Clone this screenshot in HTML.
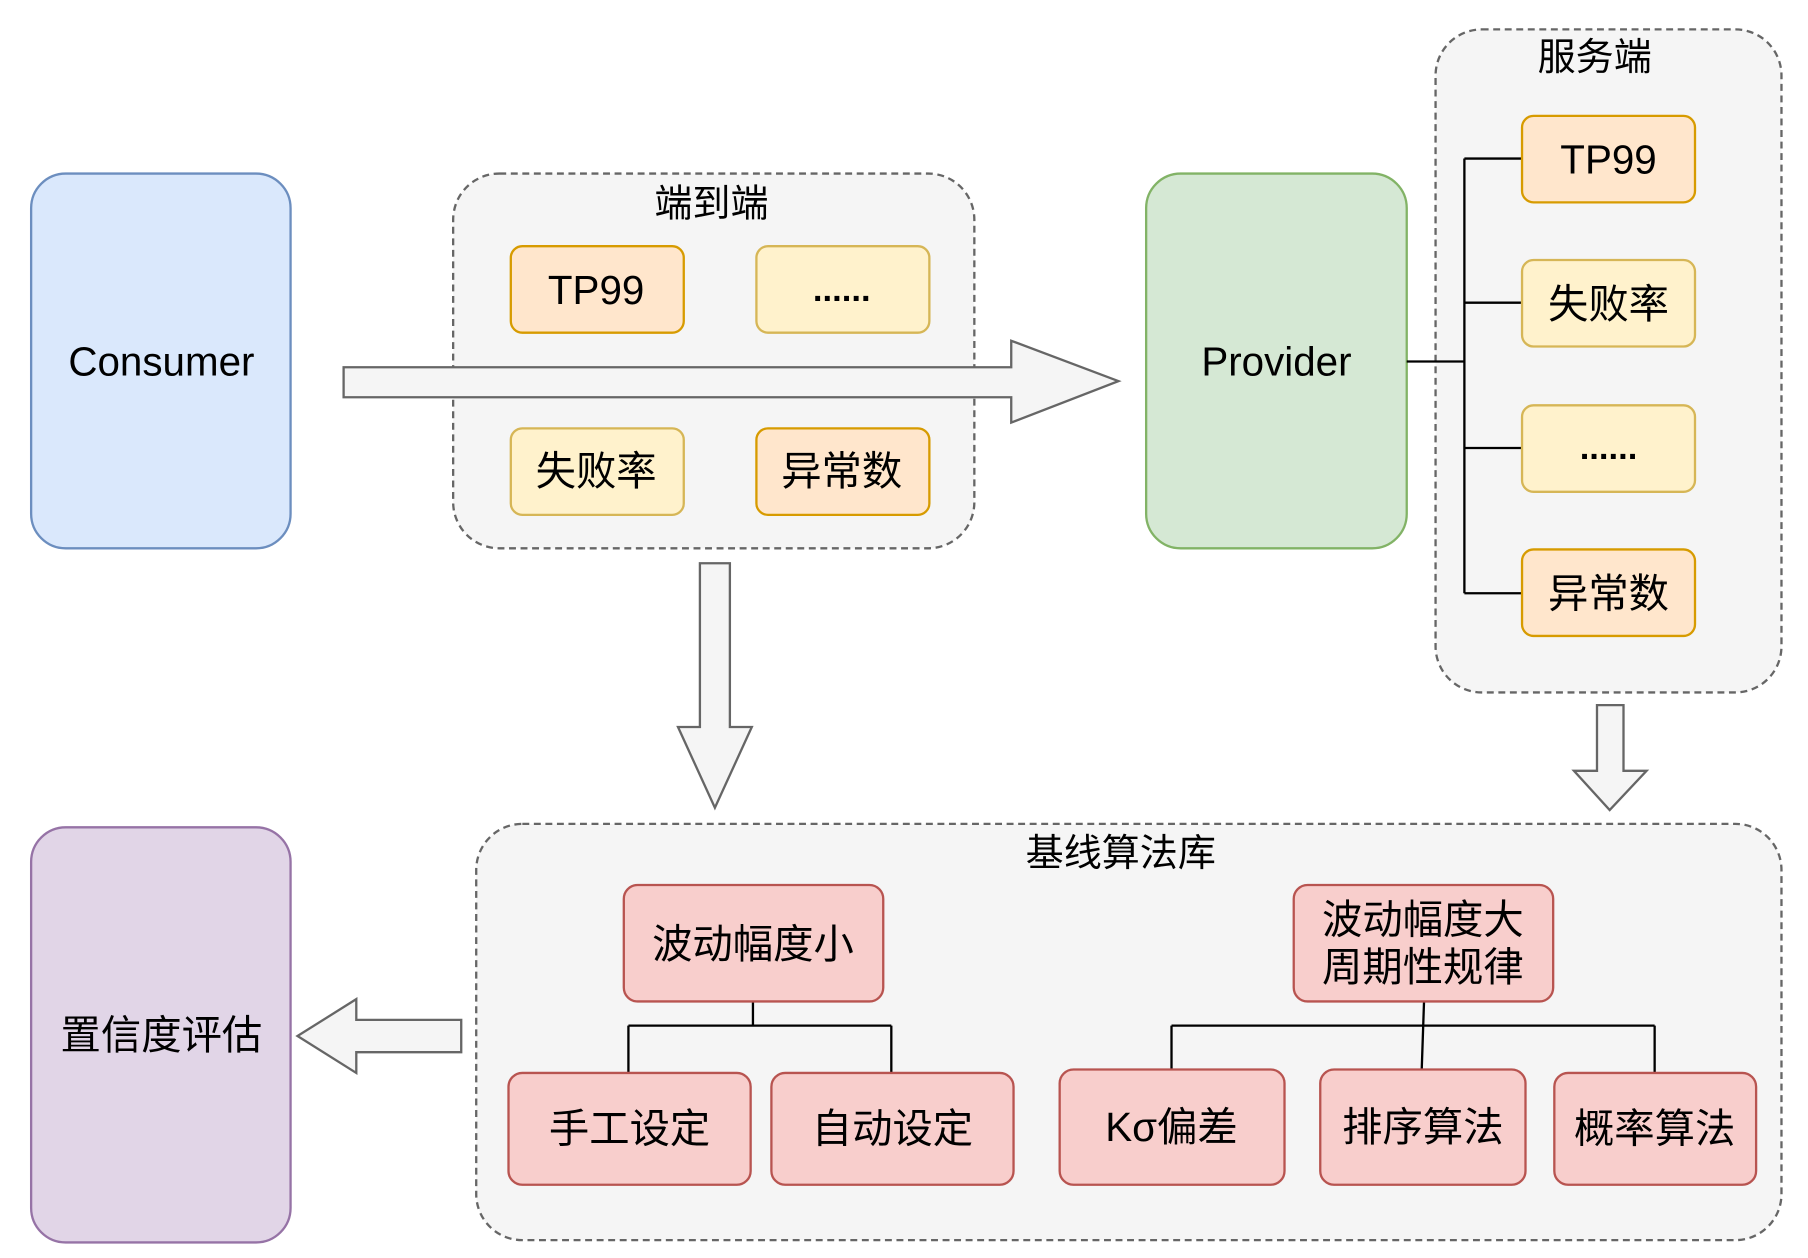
<!DOCTYPE html>
<html><head><meta charset="utf-8"><style>
html,body{margin:0;padding:0;background:#fff;}
svg{display:block;}
text{font-family:"Liberation Sans","Noto Sans CJK SC",sans-serif;fill:#000;text-anchor:middle;dominant-baseline:central;}
</style></head><body>
<svg width="1808" height="1258" viewBox="0 0 1568 1090" xmlns="http://www.w3.org/2000/svg">
<g stroke-width="2">
<rect x="393" y="150" width="452" height="325" rx="40" fill="#f5f5f5" stroke="#666" stroke-dasharray="6,4"/>
<rect x="1245" y="25" width="300" height="575" rx="40" fill="#f5f5f5" stroke="#666" stroke-dasharray="6,4"/>
<rect x="413" y="714" width="1132" height="361" rx="40" fill="#f5f5f5" stroke="#666" stroke-dasharray="6,4"/>

<rect x="27" y="150" width="225" height="325" rx="30" fill="#dae8fc" stroke="#6c8ebf"/>
<rect x="994" y="150" width="226" height="325" rx="30" fill="#d5e8d4" stroke="#82b366"/>
<rect x="27" y="717" width="225" height="360" rx="30" fill="#e1d5e7" stroke="#9673a6"/>

<rect x="443" y="213" width="150" height="75" rx="10" fill="#ffe6cc" stroke="#d79b00"/>
<rect x="656" y="213" width="150" height="75" rx="10" fill="#fff2cc" stroke="#d6b656"/>
<rect x="443" y="371" width="150" height="75" rx="10" fill="#fff2cc" stroke="#d6b656"/>
<rect x="656" y="371" width="150" height="75" rx="10" fill="#ffe6cc" stroke="#d79b00"/>

<path d="M1220 313H1270M1270 137V514M1270 137H1320M1270 262H1320M1270 388H1320M1270 514H1320" fill="none" stroke="#000"/>
<rect x="1320" y="100" width="150" height="75" rx="10" fill="#ffe6cc" stroke="#d79b00"/>
<rect x="1320" y="225" width="150" height="75" rx="10" fill="#fff2cc" stroke="#d6b656"/>
<rect x="1320" y="351" width="150" height="75" rx="10" fill="#fff2cc" stroke="#d6b656"/>
<rect x="1320" y="476" width="150" height="75" rx="10" fill="#ffe6cc" stroke="#d79b00"/>

<path d="M298 318H877V295L970 330L877 366V344H298Z" fill="#f5f5f5" stroke="#666"/>
<path d="M607 488H633V630H652L620 700L588 630H607Z" fill="#f5f5f5" stroke="#666"/>
<path d="M1385 611H1408V668H1428L1396 702L1365 668H1385Z" fill="#f5f5f5" stroke="#666"/>
<path d="M400 884H309V866L258 898L309 930V912H400Z" fill="#f5f5f5" stroke="#666"/>

<path d="M653 868V889M545 889H773M545 889V930M773 889V930M1235 868L1233 927M1016 889H1435M1016 889V927M1435 889V930" fill="none" stroke="#000"/>
<rect x="541" y="767" width="225" height="101" rx="12" fill="#f8cecc" stroke="#b85450"/>
<rect x="441" y="930" width="210" height="97" rx="12" fill="#f8cecc" stroke="#b85450"/>
<rect x="669" y="930" width="210" height="97" rx="12" fill="#f8cecc" stroke="#b85450"/>
<rect x="1122" y="767" width="225" height="101" rx="12" fill="#f8cecc" stroke="#b85450"/>
<rect x="919" y="927" width="195" height="100" rx="12" fill="#f8cecc" stroke="#b85450"/>
<rect x="1145" y="927" width="178" height="100" rx="12" fill="#f8cecc" stroke="#b85450"/>
<rect x="1348" y="930" width="175" height="97" rx="12" fill="#f8cecc" stroke="#b85450"/>
</g>

<g font-size="35">
<text x="140" y="313">Consumer</text>
<text x="1107" y="313">Provider</text>
<text x="140" y="897">置信度评估</text>
<text x="617" y="177" font-size="33">端到端</text>
<text x="1383" y="50" font-size="33">服务端</text>
<text x="972" y="740" font-size="33">基线算法库</text>
<text x="517" y="251">TP99</text>
<text x="730" y="251" font-weight="bold" font-size="30">......</text>
<text x="517" y="408">失败率</text>
<text x="730" y="408">异常数</text>
<text x="1395" y="138">TP99</text>
<text x="1395" y="263">失败率</text>
<text x="1395" y="388" font-weight="bold" font-size="30">......</text>
<text x="1395" y="514">异常数</text>
<text x="653" y="818">波动幅度小</text>
<text x="546" y="978">手工设定</text>
<text x="774" y="978">自动设定</text>
<text x="1234" y="797">波动幅度大</text>
<text x="1234" y="838">周期性规律</text>
<text x="1016" y="977">Kσ偏差</text>
<text x="1234" y="977">排序算法</text>
<text x="1435" y="978">概率算法</text>
</g>
</svg>
</body></html>
